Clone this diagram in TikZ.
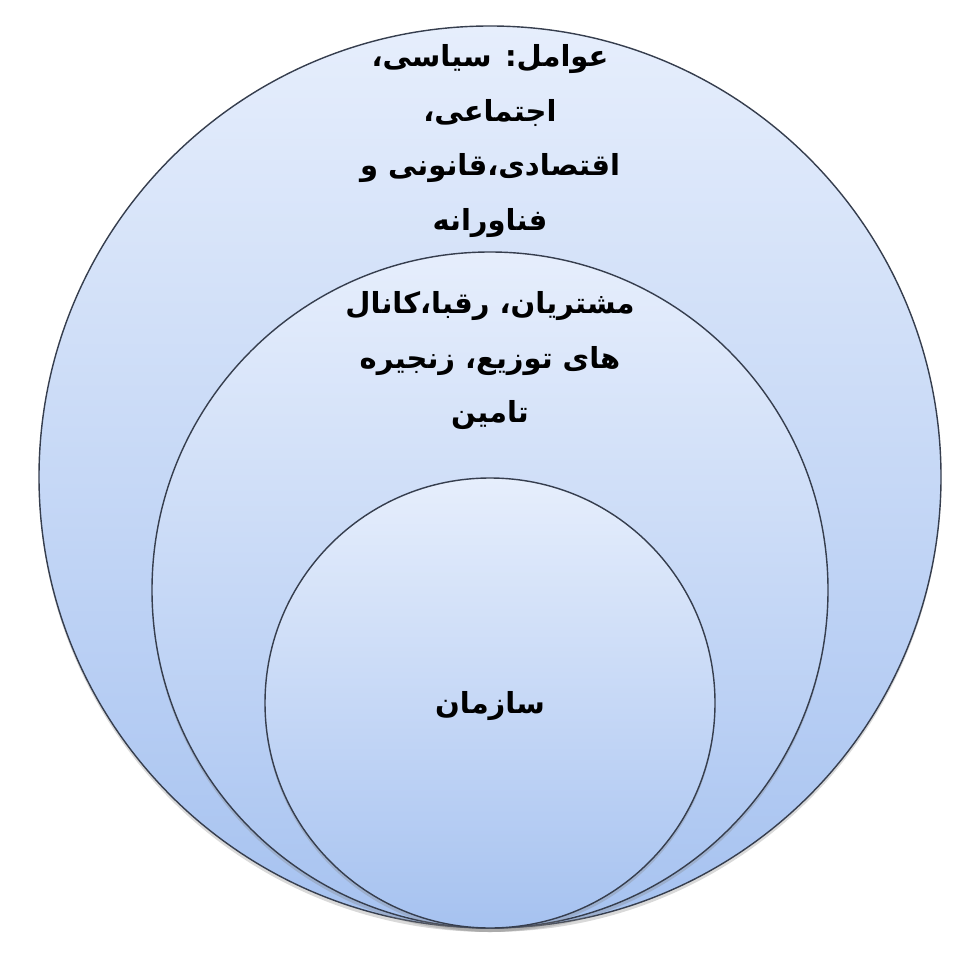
\documentclass[tikz,border=0pt]{standalone}
\usepackage{fontspec}
\newfontfamily\arabicfont[Script=Arabic]{DejaVu Sans}
\TeXXeTstate=1
\usepackage{tikz}
\usetikzlibrary{shadows,calc,positioning}
\definecolor{ringtop}{HTML}{E6EEFC}
\definecolor{ringbot}{HTML}{A6C2F0}
\definecolor{ringline}{HTML}{363E4E}
\tikzset{
  ring/.style={circle,draw=ringline,line width=0.8pt,top color=ringtop,bottom color=ringbot,
    drop shadow={opacity=0.3,shadow xshift=0pt,shadow yshift=-0.8mm}},
  label/.style={align=center,font=\arabicfont\bfseries\fontsize{16.5}{31}\selectfont}
}

\begin{document}
\begin{tikzpicture}[x=0.2mm,y=-0.2mm]
\useasboundingbox (0,0) rectangle (980,960);
\node (outer) at (490,477)[ring,minimum size=180.4mm] {};
\node (middle) at (490,590)[ring,minimum size=135.2mm] {};
\node (inner) at (490,703)[ring,minimum size=90mm] {};

\node (factors) at (490,141)[label] {\beginR عوامل: سیاسی،\endR\\\beginR اجتماعی،\endR\\\beginR اقتصادی،قانونی و\endR\\\beginR فناورانه\endR};
\node (market) at (490,361)[label] {\beginR مشتریان، رقبا،کانال\endR\\\beginR های توزیع، زنجیره\endR\\\beginR تامین\endR};
\node (org) at (490,706)[label] {\beginR سازمان\endR};

\end{tikzpicture}
\end{document}
